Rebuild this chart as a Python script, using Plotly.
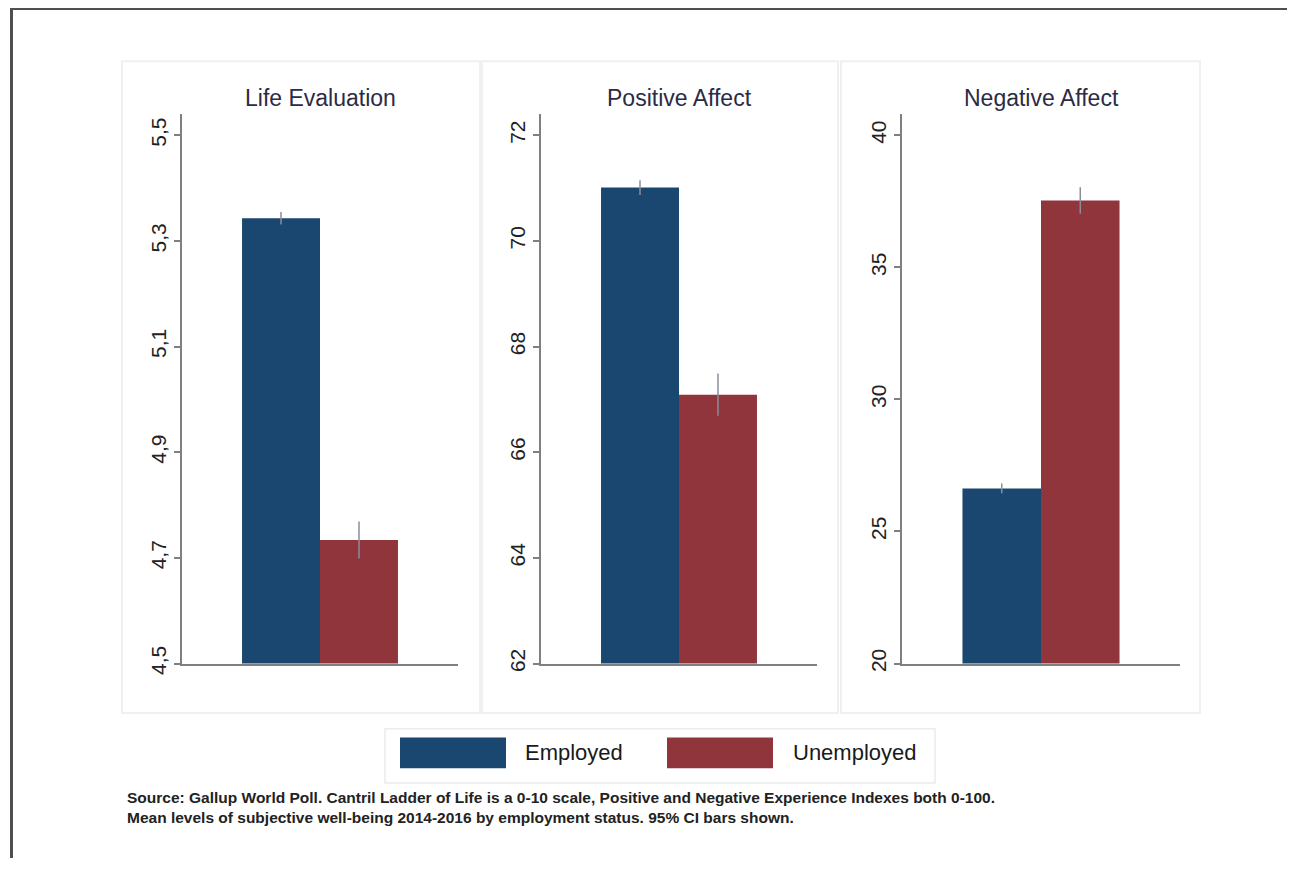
import plotly.graph_objects as go

# ---------------- data ----------------
panels = ["Life Evaluation", "Positive Affect", "Negative Affect"]
groups = ["Employed", "Unemployed"]
employed = [5.343, 71.01, 26.63]
unemployed = [4.734, 67.09, 37.53]
employed_ci = [0.012, 0.14, 0.19]
unemployed_ci = [0.035, 0.40, 0.50]
y_ranges = [[4.5, 5.541], [62, 72.41], [20, 40.82]]
tick_vals = [[4.5, 4.7, 4.9, 5.1, 5.3, 5.5],
             [62, 64, 66, 68, 70, 72],
             [20, 25, 30, 35, 40]]
tick_text = [["4,5", "4,7", "4,9", "5,1", "5,3", "5,5"],
             ["62", "64", "66", "68", "70", "72"],
             ["20", "25", "30", "35", "40"]]
source_lines = [
    "Source: Gallup World Poll. Cantril Ladder of Life is a 0-10 scale, Positive and Negative Experience Indexes both 0-100.",
    "Mean levels of subjective well-being 2014-2016 by employment status. 95% CI bars shown.",
]

# ---------------- style ----------------
OFF = 8  # default page body margin
W, H = 1295 - OFF, 869 - OFF
BLUE = "#1a476f"
RED = "#90353b"
FONT = "Liberation Sans, Arial, Helvetica, sans-serif"
AX = "#808080"
colors = [BLUE, RED]

def px(x):
    return (x - OFF) / W

def py(y):
    return 1 - (y - OFF) / H

x_dom_px = [(182, 458), (541, 817), (902, 1180)]
y_dom = [py(672), py(115)]

fig = go.Figure()

for i, name in enumerate(panels):
    sfx = "" if i == 0 else str(i + 1)
    vals = [employed[i], unemployed[i]]
    cis = [employed_ci[i], unemployed_ci[i]]
    for g in range(2):
        fig.add_trace(go.Bar(
            x=[0], y=[vals[g]], name=groups[g],
            marker=dict(color=colors[g], line=dict(width=0)),
            error_y=dict(type="data", array=[cis[g]], width=0,
                         thickness=1.5, color="#8c8c9c"),
            xaxis="x" + sfx, yaxis="y" + sfx,
            showlegend=False,
        ))
    x0, x1 = x_dom_px[i]
    fig.layout["xaxis" + sfx] = dict(
        domain=[px(x0), px(x1)], range=[-0.5, 0.5], anchor="y" + sfx,
        showline=True, linecolor=AX, linewidth=2, showgrid=False,
        zeroline=False, showticklabels=False, ticks="", fixedrange=True,
    )
    fig.layout["yaxis" + sfx] = dict(
        domain=y_dom, range=y_ranges[i], anchor="x" + sfx,
        showline=True, linecolor=AX, linewidth=2, showgrid=False,
        zeroline=False, ticks="outside", ticklen=6, tickwidth=1.5,
        tickcolor=AX, tickvals=tick_vals[i], ticktext=tick_text[i],
        tickangle=-90, tickfont=dict(family=FONT, size=21, color="#222222"),
    )
    fig.add_annotation(
        x=px((x0 + x1) / 2), y=py(99), xref="paper", yref="paper",
        text=name, showarrow=False, xanchor="center", yanchor="middle",
        font=dict(family=FONT, size=23, color="#2b2b45"),
    )

shapes = []
for (a, b, c, d) in [(122, 62, 480, 722), (482, 62, 838, 722), (841, 62, 1200, 722)]:
    shapes.append(dict(type="rect", xref="paper", yref="paper",
                       x0=px(a), x1=px(c), y0=py(d), y1=py(b),
                       line=dict(color="#f0f0f0", width=2), layer="below"))
shapes.append(dict(type="rect", xref="paper", yref="paper",
                   x0=px(385), x1=px(935), y0=py(793), y1=py(738),
                   line=dict(color="#ececec", width=1.5)))
for (a, c), col in zip([(400, 506), (667, 773)], colors):
    shapes.append(dict(type="rect", xref="paper", yref="paper",
                       x0=px(a), x1=px(c), y0=py(778), y1=py(747),
                       fillcolor=col, line=dict(width=0)))
shapes.append(dict(type="line", xref="paper", yref="paper",
                   x0=px(11), x1=1, y0=py(8.5), y1=py(8.5),
                   line=dict(color="#4f4f4f", width=3)))
shapes.append(dict(type="line", xref="paper", yref="paper",
                   x0=px(11.5), x1=px(11.5), y0=py(8), y1=0,
                   line=dict(color="#4f4f4f", width=3)))

for txt, xl in zip(groups, [523, 791]):
    fig.add_annotation(
        x=px(xl), y=py(762), xref="paper", yref="paper", text=txt,
        showarrow=False, xanchor="left", yanchor="middle",
        font=dict(family=FONT, size=22, color="#1a1a1a"),
    )

fig.add_annotation(
    x=px(125), y=py(818), xref="paper", yref="paper",
    text="<br>".join(source_lines), align="left",
    showarrow=False, xanchor="left", yanchor="middle",
    font=dict(family=FONT, size=15.5, color="#222222", weight="bold"),
)

fig.update_layout(
    width=W, height=H, autosize=False,
    margin=dict(l=0, r=0, t=0, b=0),
    paper_bgcolor="white", plot_bgcolor="rgba(0,0,0,0)",
    barmode="group", bargap=0.435, bargroupgap=0,
    shapes=shapes, showlegend=False,
    font=dict(family=FONT),
)

fig.write_html("out.html", config={"displayModeBar": False})
